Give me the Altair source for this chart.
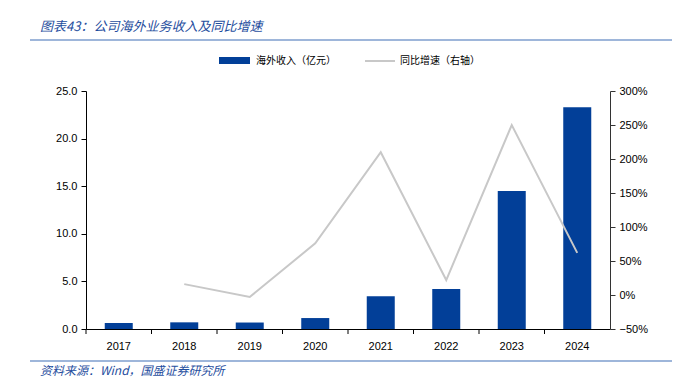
import altair as alt
import pandas as pd

years = ["2017", "2018", "2019", "2020", "2021", "2022", "2023", "2024"]
revenue = [0.63, 0.70, 0.68, 1.15, 3.45, 4.20, 14.5, 23.3]
growth = [None, 0.16, -0.03, 0.76, 2.10, 0.22, 2.50, 0.62]

title_text = "图表43：公司海外业务收入及同比增速"
source_text = "资料来源：Wind，国盛证券研究所"
legend_bar = "海外收入（亿元）"
legend_line = "同比增速（右轴）"

df = pd.DataFrame({"year": years, "revenue": revenue, "growth": growth})

BLUE = "#023F98"
GREY = "#C8C8C8"
CJK = "Noto Sans CJK SC"
NUM = "Liberation Sans"

xenc = alt.X("year:N", sort=years, title=None,
             scale=alt.Scale(paddingInner=0, paddingOuter=0),
             axis=alt.Axis(labelAngle=0, ticks=False, domainColor="#000000",
                           labelFont=NUM, labelFontSize=11, labelColor="#000000",
                           labelPadding=11))

bars = alt.Chart(df).mark_bar(color=BLUE, size=28).encode(
    x=xenc,
    y=alt.Y("revenue:Q", title=None,
            scale=alt.Scale(domain=[0, 25], nice=False),
            axis=alt.Axis(values=[0, 5, 10, 15, 20, 25], format=".1f", grid=False,
                          domainColor="#000000", tickColor="#000000", tickSize=5,
                          labelFont=NUM, labelFontSize=11, labelColor="#000000",
                          labelPadding=4)),
)

xticks = alt.Chart(df).mark_rule(color="#000000", strokeWidth=1).encode(
    x=alt.X("year:N", sort=years, bandPosition=0),
    y=alt.value(238), y2=alt.value(243),
)

line = alt.Chart(df).mark_line(color=GREY, strokeWidth=2).encode(
    x=alt.X("year:N", sort=years),
    y=alt.Y("growth:Q", title=None,
            scale=alt.Scale(domain=[-0.5, 3.0], nice=False),
            axis=alt.Axis(orient="right", values=[-0.5, 0, 0.5, 1.0, 1.5, 2.0, 2.5, 3.0],
                          format=".0%", grid=False, domainColor="#333333",
                          tickColor="#333333", tickSize=5,
                          labelFont=NUM, labelFontSize=11, labelColor="#000000",
                          labelPadding=4)),
)

one = pd.DataFrame({"a": [0]})

def deco_text(txt, x, y, size, color, italic=False, font=CJK):
    kw = dict(text=txt, align="left", baseline="middle", fontSize=size,
              color=color, font=font)
    if italic:
        kw["fontStyle"] = "italic"
    return alt.Chart(one).mark_text(**kw).encode(x=alt.value(x), y=alt.value(y))

title = deco_text(title_text, -46, -64, 13, "#1F4E9E", italic=True)
source = deco_text(source_text, -46, 280, 12, "#1F4E9E", italic=True)
top_rule = alt.Chart(one).mark_rule(color="#3F6EB5", strokeWidth=1.2).encode(
    x=alt.value(-56), x2=alt.value(586), y=alt.value(-51))
bot_rule = alt.Chart(one).mark_rule(color="#3F6EB5", strokeWidth=1.2).encode(
    x=alt.value(-56), x2=alt.value(586), y=alt.value(270))

leg_rect = alt.Chart(one).mark_rect(color=BLUE).encode(
    x=alt.value(133), x2=alt.value(164), y=alt.value(-34), y2=alt.value(-27))
leg_t1 = deco_text(legend_bar, 170, -30, 10, "#000000")
leg_line = alt.Chart(one).mark_rule(color=GREY, strokeWidth=2).encode(
    x=alt.value(279), x2=alt.value(309), y=alt.value(-30))
leg_t2 = deco_text(legend_line, 314, -30, 10, "#000000")

chart = alt.layer(
    bars, xticks, line,
    title, source, top_rule, bot_rule, leg_rect, leg_t1, leg_line, leg_t2,
).resolve_scale(y="independent").properties(
    width=524, height=238,
    autosize=alt.AutoSizeParams(type="none"),
    padding={"left": 78, "top": 83, "right": 64, "bottom": 48},
).configure_view(stroke=None).configure_axis(labelFontWeight="normal")

chart.save("out.html", embed_options={"renderer": "svg", "actions": False})
